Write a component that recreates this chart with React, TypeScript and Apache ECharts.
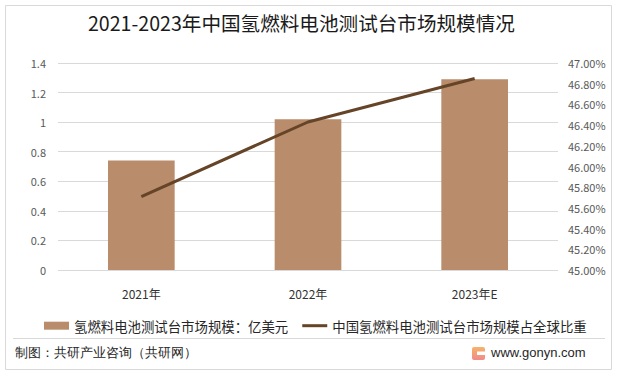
import React, { useEffect, useRef } from "react";
import * as echarts from "echarts";

const categories = ["2021年", "2022年", "2023年E"];
const marketSize = [0.74, 1.02, 1.29];
const globalShare = [45.71, 46.43, 46.85];
const seriesNames = ["氢燃料电池测试台市场规模：亿美元", "中国氢燃料电池测试台市场规模占全球比重"];
const titleText = "2021-2023年中国氢燃料电池测试台市场规模情况";
const footerText = "制图：共研产业咨询（共研网）";
const siteText = "www.gonyn.com";

const FONT = "'Noto Sans CJK SC', 'Noto Sans', sans-serif";

export default function App() {
  const ref = useRef<HTMLDivElement>(null);
  useEffect(() => {
    if (!ref.current) return;
    const chart = echarts.init(ref.current, null, { renderer: "svg" });
    chart.setOption({
      animation: false,
      backgroundColor: "#ffffff",
      textStyle: { fontFamily: FONT },
      title: {
        text: titleText,
        left: 88,
        top: 13,
        padding: 0,
        textStyle: { fontSize: 19.6, fontWeight: "normal", color: "#1a1a1a", fontFamily: FONT },
      },
      grid: { left: 58, right: 60, top: 63, bottom: 104 },
      legend: {
        top: 314,
        left: 39,
        itemGap: 14,
        itemWidth: 25,
        itemHeight: 8,
        textStyle: { fontSize: 13.4, color: "#262626", fontFamily: FONT },
        data: [
          { name: seriesNames[0], icon: "rect" },
          { name: seriesNames[1], icon: "path://M0,0H25V3H0Z" },
        ],
      },
      xAxis: {
        type: "category",
        data: categories,
        axisLine: { show: false },
        axisTick: { show: false },
        axisLabel: { fontSize: 12, color: "#333333", margin: 17, fontFamily: FONT },
      },
      yAxis: [
        {
          type: "value",
          min: 0,
          max: 1.4,
          interval: 0.2,
          axisLine: { show: false },
          axisTick: { show: false },
          splitLine: { lineStyle: { color: "#d9d9d9", width: 1 } },
          axisLabel: {
            fontSize: 11,
            color: "#595959",
            margin: 12,
            formatter: (v: number) => String(+v.toFixed(1)),
          },
        },
        {
          type: "value",
          min: 45,
          max: 47,
          interval: 0.2,
          axisLine: { show: false },
          axisTick: { show: false },
          splitLine: { show: false },
          axisLabel: {
            fontSize: 11,
            color: "#595959",
            margin: 10,
            formatter: (v: number) => v.toFixed(2) + "%",
          },
        },
      ],
      series: [
        {
          name: seriesNames[0],
          type: "bar",
          data: marketSize,
          barWidth: "40%",
          itemStyle: { color: "#B98C6B" },
        },
        {
          name: seriesNames[1],
          type: "line",
          yAxisIndex: 1,
          data: globalShare,
          symbol: "none",
          lineStyle: { color: "#654428", width: 3 },
          itemStyle: { color: "#654428" },
        },
      ],
      graphic: [
        {
          type: "rect",
          shape: { x: 5.5, y: 5.5, width: 606, height: 364 },
          style: { fill: "none", stroke: "#d9d9d9", lineWidth: 1 },
          silent: true,
        },
        {
          type: "line",
          shape: { x1: 13, y1: 338.5, x2: 605, y2: 338.5 },
          style: { stroke: "#d9d9d9", lineWidth: 1 },
        },
        {
          type: "text",
          left: 15,
          top: 346,
          style: { text: footerText, fontSize: 12.5, fill: "#262626", font: "12.5px " + FONT },
        },
        {
          type: "rect",
          shape: { x: 472, y: 347, width: 13, height: 13, r: 2 },
          style: {
            fill: new echarts.graphic.LinearGradient(0, 0, 0, 1, [
              { offset: 0, color: "#F6B36A" },
              { offset: 1, color: "#F08A8A" },
            ]),
          },
        },
        {
          type: "rect",
          shape: { x: 477, y: 351.5, width: 8, height: 3.5 },
          style: { fill: "#ffffff" },
        },
        {
          type: "text",
          left: 491,
          top: 346,
          style: { text: siteText, fontSize: 13, fill: "#262626", font: "13px " + FONT },
        },
      ],
    });
    return () => chart.dispose();
  }, []);
  return (
    <div
      ref={ref}
      style={{ position: "fixed", left: 0, top: 0, width: 618, height: 374 }}
    />
  );
}
